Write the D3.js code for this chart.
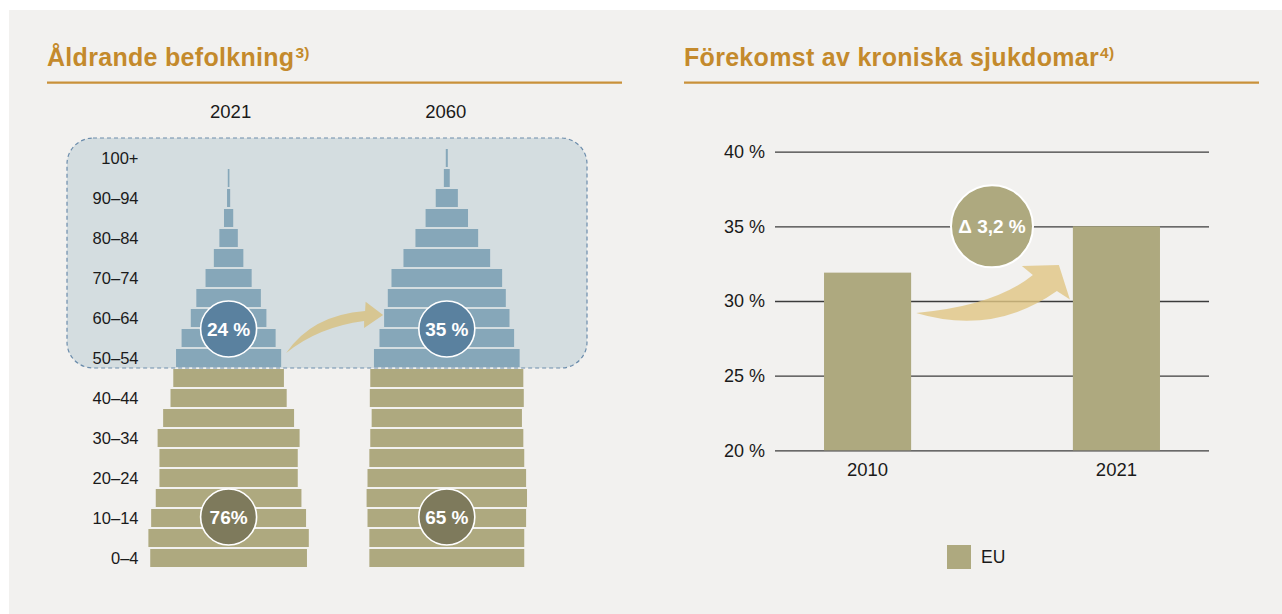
<!DOCTYPE html>
<html>
<head>
<meta charset="utf-8">
<script src="https://cdn.jsdelivr.net/npm/d3@7"></script>
<style>
body { margin: 0; background: #fff; }
svg text { font-family: "Liberation Sans", Arial, Helvetica, sans-serif; }
</style>
</head>
<body>
<svg id="chart" width="1282" height="614"></svg>
<script>
// age pyramid, share of population per age group (%)
var ageGroups = ["0–4","5–9","10–14","15–19","20–24","25–29","30–34","35–39","40–44","45–49",
                 "50–54","55–59","60–64","65–69","70–74","75–79","80–84","85–89","90–94","95–99","100+"];
var pop2021 = [8.5, 8.7, 8.4, 7.9, 7.5, 7.5, 7.7, 7.1, 6.3, 6.0,
               5.7, 5.1, 4.1, 3.5, 2.5, 1.6, 1.0, 0.5, 0.17, 0.09, 0.0];
var pop2060 = [8.4, 8.4, 8.6, 8.7, 8.6, 8.4, 8.3, 8.15, 8.35, 8.3,
               7.9, 7.3, 6.8, 6.4, 6.0, 4.7, 3.4, 2.3, 1.2, 0.32, 0.11];
var pyramidYears = ["2021", "2060"];
var shareOld = ["24 %", "35 %"];
var shareYoung = ["76%", "65 %"];

// chronic disease prevalence, EU (%)
var chronicYears = ["2010", "2021"];
var chronicEU = [31.9, 35.0];
var chronicTicks = [20, 25, 30, 35, 40];
var chronicDelta = "Δ 3,2 %";

var gold = "#c48a2c", goldLine = "#c9913a";
var blueBar = "#86a7b9", oliveBar = "#aea97f";
var blueDot = "#5a819f", oliveDot = "#7e7a5c";
var ink = "#1a1a1a";

var svg = d3.select("#chart");

svg.append("rect").attr("x", 9).attr("y", 10).attr("width", 1273).attr("height", 604).attr("fill", "#f2f1ef");

function title(x, x2, txt, sup) {
  var t = svg.append("text").attr("x", x).attr("y", 66)
    .attr("fill", gold).style("font-size", "25px").style("font-weight", "bold").style("letter-spacing", "0.3px");
  t.append("tspan").text(txt);
  t.append("tspan").attr("dy", -8).attr("dx", 1).style("font-size", "15.5px").style("letter-spacing", "0.3px").text(sup);
  svg.append("line").attr("x1", x).attr("x2", x2).attr("y1", 82.7).attr("y2", 82.7)
    .attr("stroke", goldLine).attr("stroke-width", 2.2);
}
title(47, 622, "Åldrande befolkning", "3)");
title(684, 1259, "Förekomst av kroniska sjukdomar", "4)");

// ---------- pyramid ----------
var yAge = d3.scaleBand().domain(ageGroups.slice().reverse()).range([148, 568])
  .paddingInner(0.1).paddingOuter(0.05);
var wPop = d3.scaleLinear().domain([0, 10]).range([0, 184.4]);
var xYear = d3.scaleOrdinal().domain(pyramidYears).range([228.6, 446.8]);
var bw = yAge.bandwidth();

// highlight box behind 50+
var boxTop = yAge("100+") - 11, boxBot = yAge("50–54") + bw + 1;
svg.append("rect").attr("x", 67).attr("y", boxTop).attr("width", 520).attr("height", boxBot - boxTop)
  .attr("rx", 26).attr("fill", "#d4dde0");

var series = [pop2021, pop2060];
pyramidYears.forEach(function (yr, j) {
  var rows = ageGroups.map(function (a, i) { return { age: a, v: series[j][i], old: i >= 10 }; });
  svg.append("g").selectAll("rect")
    .data(rows).enter().append("rect")
    .attr("x", function (d) { return xYear(yr) - wPop(d.v) / 2; })
    .attr("y", function (d) { return yAge(d.age); })
    .attr("width", function (d) { return wPop(d.v); })
    .attr("height", bw)
    .attr("fill", function (d) { return d.old ? blueBar : oliveBar; });

  svg.append("text").attr("x", xYear(yr) + (j == 0 ? 2 : -1)).attr("y", 118)
    .attr("text-anchor", "middle").attr("fill", ink).style("font-size", "18.5px").text(yr);
});

// dashed outline on top
svg.append("rect").attr("x", 67).attr("y", boxTop).attr("width", 520).attr("height", boxBot - boxTop)
  .attr("rx", 26).attr("fill", "none").attr("stroke", "#6c8dac").attr("stroke-width", 1.2)
  .attr("stroke-dasharray", "4,3");

// age labels, every other group
svg.append("g").selectAll("text")
  .data(ageGroups.filter(function (d, i) { return i % 2 == 0; }))
  .enter().append("text")
  .attr("x", 138.5).attr("y", function (d) { return yAge(d) + bw / 2; })
  .attr("dy", ".36em").attr("text-anchor", "end").attr("fill", ink)
  .style("font-size", "16.5px").text(function (d) { return d; });

// arrow between pyramids
var x0 = xYear("2021") + wPop(pop2021[10]) / 2 + 5, y0 = yAge("50–54") + bw / 2 - 5;
var x1 = xYear("2060") - wPop(pop2060[12]) / 2 - 1, y1 = yAge("60–64") + bw / 2 - 3;
svg.append("path")
  .attr("d", "M" + x0 + "," + y0 +
    "Q" + (x0 + 26) + "," + (y0 - 38) + " " + (x1 - 18) + "," + (y1 - 4) +
    "L" + (x1 - 17.5) + "," + (y1 - 13.3) +
    "L" + x1 + "," + y1 +
    "L" + (x1 - 19) + "," + (y1 + 13) +
    "L" + (x1 - 19) + "," + (y1 + 6) +
    "Q" + (x0 + 32) + "," + (y0 - 26) + " " + x0 + "," + y0 + "Z")
  .attr("fill", "#d7c692");

// share circles
function badge(cx, cy, r, fill, txt) {
  svg.append("circle").attr("cx", cx).attr("cy", cy).attr("r", r)
    .attr("fill", fill).attr("stroke", "#fff").attr("stroke-width", 1.6);
  svg.append("text").attr("x", cx).attr("y", cy).attr("dy", ".36em")
    .attr("text-anchor", "middle").attr("fill", "#fff")
    .style("font-size", "19px").style("font-weight", "bold").text(txt);
}
pyramidYears.forEach(function (yr, j) {
  var yo = (yAge("55–59") + yAge("60–64")) / 2 + bw / 2 + 1;
  badge(xYear(yr), yo, 28, blueDot, shareOld[j]);
  badge(xYear(yr), yAge("10–14") + bw / 2 - 1, 28, oliveDot, shareYoung[j]);
});

// ---------- chronic diseases bar chart ----------
var xb = d3.scaleBand().domain(chronicYears).range([775, 1209]).paddingInner(0.65).paddingOuter(0.197);
var yc = d3.scaleLinear().domain([20, 40]).range([450.3, 151.7]);

var gAxis = svg.append("g").attr("transform", "translate(775,0)")
  .call(d3.axisLeft(yc).tickValues(chronicTicks).tickSize(-434).tickPadding(10)
    .tickFormat(function (d) { return d + " %"; }));
gAxis.select(".domain").remove();
gAxis.selectAll(".tick line").attr("stroke", "#3c3c3c").attr("stroke-width", 1.3);
gAxis.selectAll(".tick text").attr("fill", ink).style("font-size", "18px")
  .style("font-family", "'Liberation Sans', Arial, sans-serif");

svg.append("g").selectAll("rect")
  .data(chronicYears).enter().append("rect")
  .attr("x", function (d) { return xb(d); })
  .attr("y", function (d, i) { return yc(chronicEU[i]); })
  .attr("width", xb.bandwidth())
  .attr("height", function (d, i) { return yc(20) - yc(chronicEU[i]); })
  .attr("fill", oliveBar);

svg.append("g").selectAll("text")
  .data(chronicYears).enter().append("text")
  .attr("x", function (d) { return xb(d) + xb.bandwidth() / 2; })
  .attr("y", 476).attr("text-anchor", "middle").attr("fill", ink)
  .style("font-size", "18.5px").text(function (d) { return d; });

// arrow between bars
var xs = xb("2010") + xb.bandwidth(), xe = xb("2021"), yr = yc(30);
svg.append("path")
  .attr("d", "M" + (xs + 5) + "," + (yr + 12) +
    "Q" + (xs + 82) + "," + (yr + 35) + " " + (xe - 16) + "," + (yr - 10) +
    "L" + (xe - 3) + "," + (yr - 1.5) +
    "L" + (xe - 14) + "," + (yr - 36) +
    "L" + (xe - 51) + "," + (yr - 35) +
    "L" + (xe - 40) + "," + (yr - 26) +
    "Q" + (xs + 84) + "," + (yr + 5) + " " + (xs + 5) + "," + (yr + 12) + "Z")
  .attr("fill", "rgb(224,197,131)").attr("opacity", 0.8);

var dcx = (xb("2010") + xb("2021") + xb.bandwidth()) / 2;
svg.append("circle").attr("cx", dcx).attr("cy", yc(35)).attr("r", 41)
  .attr("fill", oliveBar).attr("stroke", "#fff").attr("stroke-width", 2);
svg.append("text").attr("x", dcx).attr("y", yc(35)).attr("dy", ".36em")
  .attr("text-anchor", "middle").attr("fill", "#fff")
  .style("font-size", "19px").style("font-weight", "bold").text(chronicDelta);

// legend
svg.append("rect").attr("x", 947).attr("y", 545).attr("width", 24).attr("height", 24).attr("fill", oliveBar);
svg.append("text").attr("x", 981).attr("y", 557).attr("dy", ".36em").attr("fill", ink)
  .style("font-size", "17.5px").text("EU");
</script>
</body>
</html>
